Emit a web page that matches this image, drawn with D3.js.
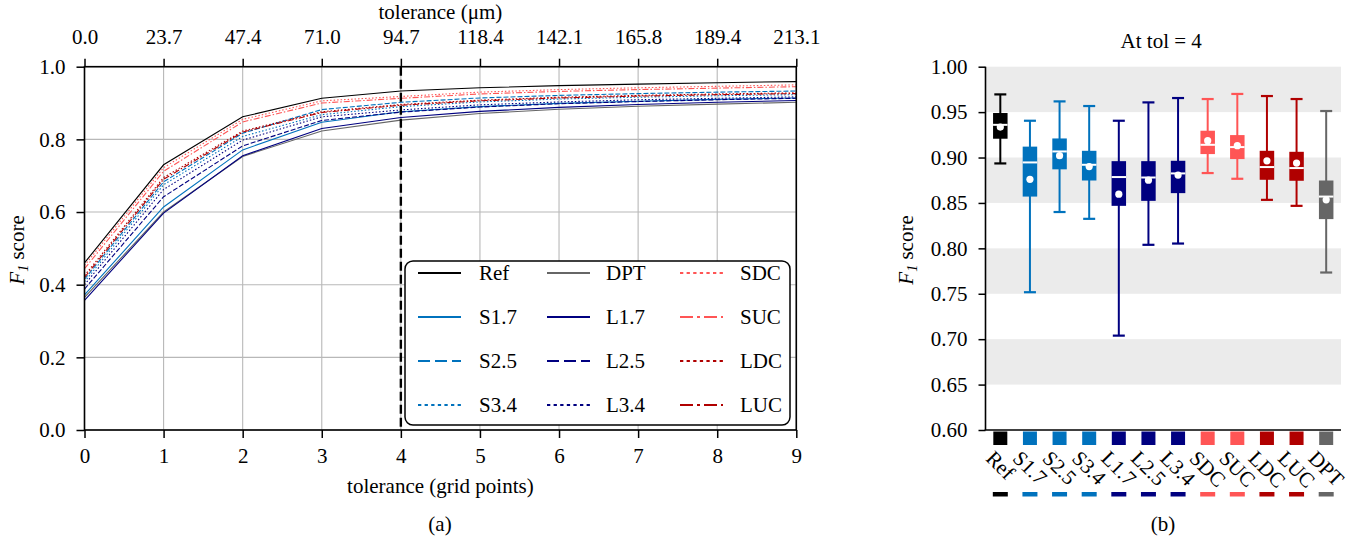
<!DOCTYPE html>
<html>
<head>
<meta charset="utf-8">
<script src="https://cdn.jsdelivr.net/npm/d3@7"></script>
<style>
  body { margin: 0; background: #fff; }
  svg { display: block; }
</style>
</head>
<body>
<svg id="fig" width="1364" height="544" font-family="Liberation Serif"></svg>
<script>
// ---------- data ----------
const gridPoints = [0, 1, 2, 3, 4, 5, 6, 7, 8, 9];
const micronLabels = ["0.0", "23.7", "47.4", "71.0", "94.7", "118.4", "142.1", "165.8", "189.4", "213.1"];
const leftYTicks = [0.0, 0.2, 0.4, 0.6, 0.8, 1.0];
const rightYTicks = [0.60, 0.65, 0.70, 0.75, 0.80, 0.85, 0.90, 0.95, 1.00];
const shadedBands = [[0.95, 1.00], [0.85, 0.90], [0.75, 0.80], [0.65, 0.70]];
const markedTolerance = 4;

// F1 score against tolerance (grid points 0..9)
const f1Ref  = [0.460, 0.730, 0.862, 0.913, 0.933, 0.942, 0.948, 0.952, 0.956, 0.959];
const f1S17  = [0.372, 0.614, 0.771, 0.847, 0.876, 0.890, 0.899, 0.905, 0.910, 0.914];
const f1S25  = [0.415, 0.683, 0.817, 0.882, 0.902, 0.914, 0.921, 0.926, 0.930, 0.933];
const f1S34  = [0.408, 0.675, 0.808, 0.868, 0.890, 0.903, 0.911, 0.916, 0.920, 0.923];
const f1DPT  = [0.365, 0.600, 0.753, 0.823, 0.853, 0.871, 0.883, 0.891, 0.897, 0.902];
const f1L17  = [0.357, 0.597, 0.755, 0.830, 0.860, 0.877, 0.888, 0.896, 0.902, 0.907];
const f1L25  = [0.388, 0.642, 0.782, 0.852, 0.875, 0.889, 0.898, 0.904, 0.909, 0.913];
const f1L34  = [0.400, 0.662, 0.798, 0.862, 0.881, 0.895, 0.903, 0.909, 0.913, 0.917];
const f1SDC  = [0.453, 0.722, 0.855, 0.906, 0.918, 0.930, 0.937, 0.942, 0.946, 0.950];
const f1SUC  = [0.444, 0.712, 0.848, 0.900, 0.913, 0.925, 0.932, 0.937, 0.941, 0.945];
const f1LDC  = [0.425, 0.695, 0.823, 0.876, 0.896, 0.908, 0.916, 0.921, 0.925, 0.928];
const f1LUC  = [0.420, 0.690, 0.820, 0.874, 0.894, 0.906, 0.914, 0.919, 0.923, 0.926];

// drawing / legend order (legend fills column by column)
const lineMethods = ["Ref", "S1.7", "S2.5", "S3.4", "DPT", "L1.7", "L2.5", "L3.4", "SDC", "SUC", "LDC", "LUC"];
const lineValues  = [f1Ref, f1S17, f1S25, f1S34, f1DPT, f1L17, f1L25, f1L34, f1SDC, f1SUC, f1LDC, f1LUC];

// distribution at tol = 4
const boxMethods = ["Ref", "S1.7", "S2.5", "S3.4", "L1.7", "L2.5", "L3.4", "SDC", "SUC", "LDC", "LUC", "DPT"];
const boxWhiskerHigh = [0.9695, 0.9405, 0.9618, 0.9567, 0.9405, 0.9607, 0.9655, 0.9644, 0.9700, 0.9677, 0.9644, 0.9512];
const boxQ3          = [0.9490, 0.9120, 0.9210, 0.9074, 0.8960, 0.8960, 0.8964, 0.9295, 0.9247, 0.9074, 0.9063, 0.8747];
const boxMedian      = [0.9360, 0.8946, 0.9067, 0.8920, 0.8785, 0.8780, 0.8825, 0.9140, 0.9115, 0.8895, 0.8884, 0.8570];
const boxQ1          = [0.9207, 0.8570, 0.8870, 0.8747, 0.8468, 0.8523, 0.8608, 0.9038, 0.8983, 0.8755, 0.8744, 0.8322];
const boxWhiskerLow  = [0.8935, 0.7517, 0.8400, 0.8325, 0.7039, 0.8039, 0.8053, 0.8829, 0.8766, 0.8534, 0.8468, 0.7734];
const boxMean        = [0.9335, 0.8760, 0.9020, 0.8900, 0.8597, 0.8751, 0.8807, 0.9185, 0.9130, 0.8964, 0.8939, 0.8534];

// ---------- styles ----------
const SERIF = "Liberation Serif";
const methodColor = {
  "Ref": "#000000", "DPT": "#666666",
  "S1.7": "#0072bd", "S2.5": "#0072bd", "S3.4": "#0072bd",
  "L1.7": "#000080", "L2.5": "#000080", "L3.4": "#000080",
  "SDC": "#ff5555", "SUC": "#ff5555", "LDC": "#b00000", "LUC": "#b00000"
};
const methodDash = {
  "Ref": "solid", "DPT": "solid", "S1.7": "solid", "L1.7": "solid",
  "S2.5": "dashed", "L2.5": "dashed",
  "S3.4": "dotted", "L3.4": "dotted", "SDC": "dotted", "LDC": "dotted",
  "SUC": "dashdot", "LUC": "dashdot"
};
const plotDash   = { solid: null, dashed: "5,2", dotted: "1.5,2", dashdot: "6,2,1.5,2" };
const legendDash = { solid: null, dashed: "12,5", dotted: "3.3,3.3", dashdot: "13,4,3,4" };

const svg = d3.select("#fig");
const FS = 21;

// ================= panel (a): F1 vs tolerance =================
const ax = { left: 84.5, right: 796.3, top: 66.7, bottom: 430 };
const x = d3.scaleLinear().domain([0, 9]).range([ax.left, ax.right]);
const y = d3.scaleLinear().domain([0, 1]).range([ax.bottom, ax.top]);

const pa = svg.append("g");

// grid
pa.append("g").selectAll("line").data(gridPoints).join("line")
  .attr("x1", d => x(d)).attr("x2", d => x(d))
  .attr("y1", ax.top).attr("y2", ax.bottom)
  .attr("stroke", "#b8b8b8").attr("stroke-width", 1.1);
pa.append("g").selectAll("line").data(leftYTicks).join("line")
  .attr("x1", ax.left).attr("x2", ax.right)
  .attr("y1", d => y(d)).attr("y2", d => y(d))
  .attr("stroke", "#b8b8b8").attr("stroke-width", 1.1);

// series
const line = d3.line().x((d, i) => x(gridPoints[i])).y(d => y(d));
lineMethods.forEach((m, k) => {
  pa.append("path")
    .attr("d", line(lineValues[k]))
    .attr("fill", "none")
    .attr("stroke", methodColor[m])
    .attr("stroke-width", 1.1)
    .attr("stroke-dasharray", plotDash[methodDash[m]]);
});

// marker at the chosen tolerance
pa.append("line")
  .attr("x1", x(markedTolerance)).attr("x2", x(markedTolerance))
  .attr("y1", ax.top).attr("y2", ax.bottom)
  .attr("stroke", "#000").attr("stroke-width", 2.4)
  .attr("stroke-dasharray", "9,4");

// axes
function styleAxis(g) {
  g.attr("font-family", SERIF);
  g.select(".domain").remove();
  g.selectAll(".tick line").attr("stroke", "#000").attr("stroke-width", 1.5);
  g.selectAll(".tick text").attr("font-size", FS).attr("fill", "#000");
}
pa.append("g").attr("transform", `translate(0,${ax.bottom})`)
  .call(d3.axisBottom(x).tickValues(gridPoints).tickFormat(d3.format("d")).tickSize(8).tickPadding(10))
  .call(styleAxis);
pa.append("g").attr("transform", `translate(0,${ax.top})`)
  .call(d3.axisTop(x).tickValues(gridPoints).tickFormat((d, i) => micronLabels[i]).tickSize(8).tickPadding(15))
  .call(styleAxis);
pa.append("g").attr("transform", `translate(${ax.left},0)`)
  .call(d3.axisLeft(y).tickValues(leftYTicks).tickFormat(d3.format(".1f")).tickSize(8).tickPadding(11))
  .call(styleAxis);

pa.append("rect")
  .attr("x", ax.left).attr("y", ax.top)
  .attr("width", ax.right - ax.left).attr("height", ax.bottom - ax.top)
  .attr("fill", "none").attr("stroke", "#000").attr("stroke-width", 1.6);

// legend
const lg = pa.append("g");
lg.append("rect")
  .attr("x", 405).attr("y", 261).attr("width", 385).attr("height", 164)
  .attr("rx", 8).attr("ry", 8)
  .attr("fill", "#fff").attr("stroke", "#000").attr("stroke-width", 1.5);
const legendCols = [{ lx: 418, tx: 479 }, { lx: 547, tx: 606 }, { lx: 680, tx: 740 }];
lineMethods.forEach((m, k) => {
  const c = legendCols[Math.floor(k / 4)];
  const ry = 273 + (k % 4) * 44;
  lg.append("line")
    .attr("x1", c.lx).attr("x2", c.lx + 43)
    .attr("y1", ry).attr("y2", ry)
    .attr("stroke", methodColor[m]).attr("stroke-width", 2.2)
    .attr("stroke-dasharray", legendDash[methodDash[m]]);
  lg.append("text")
    .attr("x", c.tx).attr("y", ry).attr("dy", "0.34em")
    .attr("font-size", FS).text(m);
});

// labels
pa.append("text").attr("x", (ax.left + ax.right) / 2).attr("y", 493)
  .attr("text-anchor", "middle").attr("font-size", FS).text("tolerance (grid points)");
pa.append("text").attr("x", (ax.left + ax.right) / 2).attr("y", 19)
  .attr("text-anchor", "middle").attr("font-size", FS).text("tolerance (μm)");

function f1Label(g, tx, ty) {
  const t = g.append("text")
    .attr("transform", `translate(${tx},${ty}) rotate(-90)`)
    .attr("text-anchor", "middle").attr("font-size", FS);
  t.append("tspan").attr("font-style", "italic").text("F");
  t.append("tspan").attr("font-style", "italic").attr("font-size", 14).attr("dy", 4).text("1");
  t.append("tspan").attr("dy", -4).text(" score");
}
f1Label(pa, 24, 250);
pa.append("text").attr("x", 440).attr("y", 531).attr("text-anchor", "middle")
  .attr("font-size", FS).text("(a)");

// ================= panel (b): box plots at tol = 4 =================
const bx = { left: 985.5, right: 1341, top: 66.7, bottom: 430 };
const xb = d3.scalePoint().domain(boxMethods).range([bx.left, bx.right]).padding(0.5);
const yb = d3.scaleLinear().domain([0.60, 1.00]).range([bx.bottom, bx.top]);
const pb = svg.append("g");

pb.append("g").selectAll("rect").data(shadedBands).join("rect")
  .attr("x", bx.left).attr("width", bx.right - bx.left)
  .attr("y", d => yb(d[1])).attr("height", d => yb(d[0]) - yb(d[1]))
  .attr("fill", "#ebebeb");

const boxW = 14.5, capW = 12;
boxMethods.forEach((m, i) => {
  const cx = xb(m), col = methodColor[m];
  const g = pb.append("g");
  g.append("line").attr("x1", cx).attr("x2", cx)
    .attr("y1", yb(boxWhiskerHigh[i])).attr("y2", yb(boxWhiskerLow[i]))
    .attr("stroke", col).attr("stroke-width", 2);
  [boxWhiskerHigh[i], boxWhiskerLow[i]].forEach(v => {
    g.append("line").attr("x1", cx - capW / 2).attr("x2", cx + capW / 2)
      .attr("y1", yb(v)).attr("y2", yb(v))
      .attr("stroke", col).attr("stroke-width", 2.2);
  });
  g.append("rect").attr("x", cx - boxW / 2).attr("width", boxW)
    .attr("y", yb(boxQ3[i])).attr("height", yb(boxQ1[i]) - yb(boxQ3[i]))
    .attr("fill", col);
  g.append("line").attr("x1", cx - boxW / 2).attr("x2", cx + boxW / 2)
    .attr("y1", yb(boxMedian[i])).attr("y2", yb(boxMedian[i]))
    .attr("stroke", "#fff").attr("stroke-width", 2);
  g.append("circle").attr("cx", cx).attr("cy", yb(boxMean[i])).attr("r", 3.6)
    .attr("fill", "#fff");
});

// y axis
pb.append("g").attr("transform", `translate(${bx.left},0)`)
  .call(d3.axisLeft(yb).tickValues(rightYTicks).tickFormat(d3.format(".2f")).tickSize(7).tickPadding(11))
  .call(styleAxis);
pb.append("line").attr("x1", bx.left).attr("x2", bx.left)
  .attr("y1", bx.top).attr("y2", bx.bottom)
  .attr("stroke", "#000").attr("stroke-width", 1.6);
pb.append("line").attr("x1", bx.left - 0.8).attr("x2", bx.right)
  .attr("y1", bx.bottom).attr("y2", bx.bottom)
  .attr("stroke", "#000").attr("stroke-width", 1.6);

// category markers and labels
boxMethods.forEach((m) => {
  const cx = xb(m), col = methodColor[m];
  pb.append("rect").attr("x", cx - 7).attr("y", 431.5).attr("width", 14).attr("height", 13.5).attr("fill", col);
  pb.append("rect").attr("x", cx - 7.5).attr("y", 492).attr("width", 15).attr("height", 4.5).attr("fill", col);
  const t = pb.append("text").attr("font-size", FS).attr("font-family", SERIF).text(m);
  const bb = t.node().getBBox();
  const a = Math.PI / 4, ca = Math.cos(a), sa = Math.sin(a);
  const pts = [[bb.x, bb.y], [bb.x + bb.width, bb.y], [bb.x, bb.y + bb.height], [bb.x + bb.width, bb.y + bb.height]]
    .map(([px, py]) => [px * ca - py * sa, px * sa + py * ca]);
  const minX = d3.min(pts, p => p[0]), maxX = d3.max(pts, p => p[0]), minY = d3.min(pts, p => p[1]);
  const tx = cx - (minX + maxX) / 2, ty = 446 - minY;
  t.attr("transform", `translate(${tx},${ty}) rotate(45)`);
});

pb.append("text").attr("x", (bx.left + bx.right) / 2 - 2).attr("y", 48)
  .attr("text-anchor", "middle").attr("font-size", FS).text("At tol = 4");
f1Label(pb, 913, 250);
pb.append("text").attr("x", 1163).attr("y", 531).attr("text-anchor", "middle")
  .attr("font-size", FS).text("(b)");

svg.selectAll("text").attr("font-family", SERIF);
</script>
</body>
</html>
